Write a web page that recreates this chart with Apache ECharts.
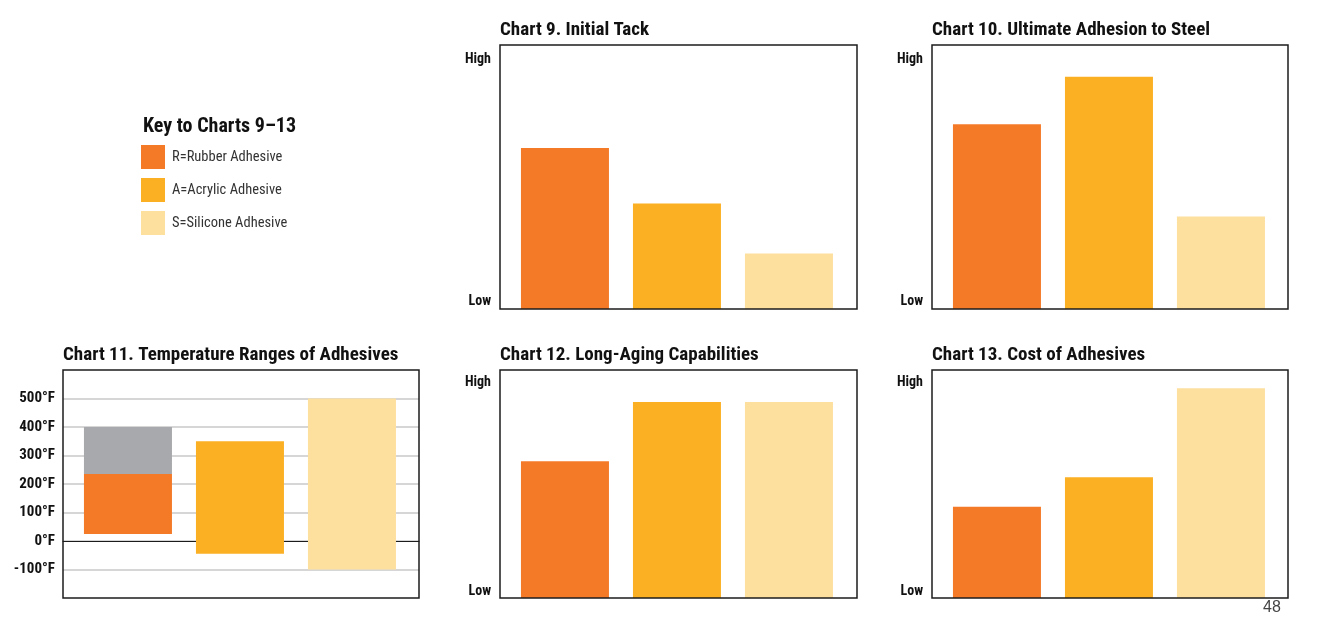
<!DOCTYPE html>
<html>
<head>
<meta charset="utf-8">
<title>Adhesive comparison, charts 9–13</title>
<script src="https://cdn.jsdelivr.net/npm/echarts@6/dist/echarts.min.js"></script>
<style>
  html, body { margin: 0; padding: 0; background: #fff; }
  #chart { width: 1327px; height: 621px; }
</style>
</head>
<body>
<div id="chart"></div>
<script>
// adhesive types, same order in every chart
const adhesives = ['R=Rubber Adhesive', 'A=Acrylic Adhesive', 'S=Silicone Adhesive'];
const adhesiveColors = ['#F47A28', '#FBAF23', '#FDDF9E'];

// relative ratings (0 = bottom of frame, 100 = top of frame)
const initialTack = [61, 40, 21];
const adhesionToSteel = [70, 88, 35];
const longAging = [60, 86, 86];
const cost = [40, 53, 92];
const ratingLabels = ['Low', 'High'];
const ratingLabelValues = [2.8, 94.5];

// chart 11, temperature ranges in °F
const tempLow = [25, -45, -100];
const tempHigh = [235, 350, 500];
const rubberShortTermHigh = 400;
const tempTicks = [-100, 0, 100, 200, 300, 400, 500];

const NARROW = '"Roboto Condensed", "Liberation Sans Narrow", "DejaVu Sans Condensed", sans-serif';
const FRAME = '#1c1c1c';
const BAR_W = 88;
const STEP = 112; // px between bar centres
const X_MIN = -0.58;

const ratingPanels = [
  { title: 'Chart 9. Initial Tack', values: initialTack, left: 500, top: 45, width: 357, height: 264 },
  { title: 'Chart 10. Ultimate Adhesion to Steel', values: adhesionToSteel, left: 932, top: 45, width: 356, height: 264 },
  { title: 'Chart 12. Long-Aging Capabilities', values: longAging, left: 500, top: 370, width: 357, height: 228 },
  { title: 'Chart 13. Cost of Adhesives', values: cost, left: 932, top: 370, width: 356, height: 228 }
];
const tempPanel = { title: 'Chart 11. Temperature Ranges of Adhesives', left: 63, top: 370, width: 356, height: 228 };

const grids = [];
const xAxes = [];
const yAxes = [];
const series = [];
const titles = [];

function addGrid(p) {
  grids.push({
    left: p.left, top: p.top, width: p.width, height: p.height,
    show: true, z: 5, backgroundColor: 'transparent',
    borderColor: FRAME, borderWidth: 1.5
  });
  titles.push({
    text: p.title, left: p.left, top: p.top - 24, padding: 0,
    textStyle: { fontFamily: NARROW, fontSize: 19, fontWeight: 'bold', color: '#111' }
  });
  return grids.length - 1;
}

const labelStyle = { fontFamily: NARROW, fontSize: 14, fontWeight: 'bold', color: '#111' };

// rating charts (9, 10, 12, 13)
ratingPanels.forEach(p => {
  const idx = addGrid(p);
  xAxes.push({ gridIndex: idx, type: 'value', show: false, min: X_MIN, max: X_MIN + p.width / STEP });
  yAxes.push({
    gridIndex: idx, type: 'value', min: 0, max: 100,
    axisLine: { show: false, onZero: false },
    axisTick: { show: false },
    splitLine: { show: false },
    axisLabel: Object.assign({
      customValues: ratingLabelValues,
      formatter: v => ratingLabels[ratingLabelValues.indexOf(v)],
      margin: 9
    }, labelStyle)
  });
  adhesives.forEach((name, i) => {
    series.push({
      name: name, type: 'bar', xAxisIndex: idx, yAxisIndex: idx,
      data: [[i, p.values[i]]],
      barWidth: BAR_W, barGap: '-100%',
      itemStyle: { color: adhesiveColors[i] },
      emphasis: { disabled: true }
    });
  });
});

// chart 11, floating range bars [position, low, high]
const tIdx = addGrid(tempPanel);
xAxes.push({
  gridIndex: tIdx, type: 'value', min: X_MIN, max: X_MIN + tempPanel.width / STEP,
  axisLine: { show: true, onZero: true, lineStyle: { color: FRAME, width: 1 } },
  axisTick: { show: false },
  axisLabel: { show: false },
  splitLine: { show: false }
});
yAxes.push({
  gridIndex: tIdx, type: 'value', min: -200, max: 600, interval: 100,
  axisLine: { show: false, onZero: false },
  axisTick: { show: false, customValues: tempTicks },
  splitLine: { show: true, lineStyle: { color: '#c8c8c8', width: 1.5 } },
  axisLabel: Object.assign({
    customValues: tempTicks,
    formatter: v => v + '°F',
    margin: 8
  }, labelStyle, { fontSize: 15 })
});

function rangeBar(params, api) {
  const x = api.value(0);
  const lo = api.coord([x, api.value(1)]);
  const hi = api.coord([x, api.value(2)]);
  return {
    type: 'rect',
    shape: { x: lo[0] - BAR_W / 2, y: hi[1], width: BAR_W, height: lo[1] - hi[1] },
    style: api.style()
  };
}

function rangeSeries(name, pos, low, high, color) {
  return {
    name: name, type: 'custom', xAxisIndex: tIdx, yAxisIndex: tIdx,
    data: [[pos, low, high]],
    encode: { x: 0, y: [1, 2] },
    renderItem: rangeBar,
    itemStyle: { color: color },
    emphasis: { disabled: true }
  };
}

adhesives.forEach((name, i) => {
  series.push(rangeSeries(name, i, tempLow[i], tempHigh[i], adhesiveColors[i]));
});
series.push(rangeSeries('Rubber Adhesive, short term', 0, tempHigh[0], rubberShortTermHigh, '#A8A9AD'));

titles.push({
  text: 'Key to Charts 9–13', left: 143, top: 117, padding: 0,
  textStyle: { fontFamily: NARROW, fontSize: 20, fontWeight: 'bold', color: '#111' }
});
titles.push({
  text: '48', left: 1263, top: 600, padding: 0,
  textStyle: { fontFamily: '"Liberation Sans", sans-serif', fontSize: 16, fontWeight: 'normal', color: '#444' }
});

const chart = echarts.init(document.getElementById('chart'));
chart.setOption({
  backgroundColor: '#fff',
  animation: false,
  title: titles,
  legend: {
    data: adhesives,
    orient: 'vertical',
    left: 141, top: 145,
    padding: 0,
    itemWidth: 24, itemHeight: 24, itemGap: 9,
    icon: 'rect',
    selectedMode: false,
    textStyle: { fontFamily: NARROW, fontSize: 14.5, color: '#333', lineHeight: 20, padding: [2, 0, 0, 2] }
  },
  grid: grids,
  xAxis: xAxes,
  yAxis: yAxes,
  series: series
});
</script>
</body>
</html>
